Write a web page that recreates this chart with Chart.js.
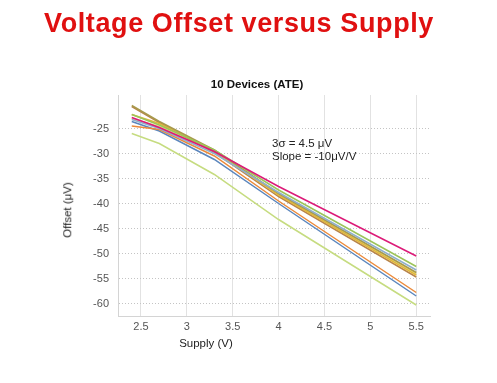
<!DOCTYPE html>
<html>
<head>
<meta charset="utf-8">
<script src="https://cdn.jsdelivr.net/npm/chart.js@4.4.1/dist/chart.umd.min.js"></script>
<style>
  html, body { margin: 0; padding: 0; background: #ffffff; }
  #wrap { position: relative; width: 497px; height: 383px; overflow: hidden; font-family: 'Liberation Sans', Arial, sans-serif; }
  #c { position: absolute; left: 0; top: 0; }
  .t { position: absolute; white-space: nowrap; line-height: 1; }
  #mainTitle { left: 239px; top: 10px; transform: translateX(-50%); font-size: 27px; line-height: 27px; font-weight: bold; color: #e01010; letter-spacing: 0.6px; }
  #subTitle { left: 257px; top: 79px; transform: translateX(-50%); font-size: 11.5px; font-weight: bold; color: #111; }
  #note { left: 272px; top: 137px; font-size: 11.5px; line-height: 13px; color: #222; }
  #xTitle { left: 206px; top: 338px; transform: translateX(-50%); font-size: 11.5px; color: #222; }
  #yTitle { left: 68px; top: 210px; transform: translate(-50%, -50%) rotate(-90deg); font-size: 11.5px; color: #222; }
</style>
</head>
<body>
<div id="wrap">
  <canvas id="c" width="497" height="383"></canvas>
  <div class="t" id="mainTitle">Voltage Offset versus Supply</div>
  <div class="t" id="subTitle">10 Devices (ATE)</div>
  <div class="t" id="note">3σ = 4.5 μV<br>Slope = -10μV/V</div>
  <div class="t" id="xTitle">Supply (V)</div>
  <div class="t" id="yTitle">Offset (μV)</div>
</div>
<script>
// ---- data ----
const supply = [2.4, 2.7, 3.3, 4.0, 5.5];
const dev1  = [-24.5, -25.2, -30.5, -39.5, -57.8];
const dev2  = [-23.6, -25.5, -31.2, -40.0, -58.5];
const dev3  = [-26.0, -28.0, -34.2, -43.2, -60.3];
const dev4  = [-22.8, -24.8, -29.6, -36.6, -50.5];
const dev5  = [-22.2, -24.3, -29.3, -37.3, -52.6];
const dev6  = [-23.2, -25.0, -30.0, -37.8, -53.3];
const dev7  = [-20.4, -23.6, -29.3, -38.0, -53.8];
const dev8  = [-22.2, -24.0, -29.5, -38.3, -54.3];
const dev9  = [-20.6, -23.8, -29.8, -38.6, -54.7];
const dev10 = [-23.0, -24.6, -29.5, -38.0, -54.0];
const xTicks = [2.5, 3, 3.5, 4, 4.5, 5, 5.5];
const yTicks = [-25, -30, -35, -40, -45, -50, -55, -60];

const devices = [dev4, dev5, dev6, dev7, dev8, dev9, dev10, dev1, dev2, dev3];
const colors = ['#dc1a78', '#9cc45a', '#8fb0cc', '#a89a4c', '#e2b83a', '#b8844a', '#e6de80', '#ec8a3a', '#5b86bd', '#c6dc80'];

Chart.defaults.font.family = "'Liberation Sans', Arial, sans-serif";
Chart.defaults.font.size = 11;
Chart.defaults.color = '#555';

new Chart(document.getElementById('c'), {
  type: 'line',
  data: {
    datasets: devices.map((d, i) => ({
      label: 'Device ' + (i + 1),
      data: supply.map((x, j) => ({ x: x, y: d[j] })),
      borderColor: colors[i],
      borderWidth: 1.5,
      pointRadius: 0,
      tension: 0,
      fill: false
    }))
  },
  options: {
    responsive: false,
    animation: false,
    layout: { padding: { left: 78, right: 67, top: 95, bottom: 42 } },
    plugins: { legend: { display: false }, tooltip: { enabled: false } },
    scales: {
      x: {
        type: 'linear',
        min: 2.25,
        max: 5.65,
        afterBuildTicks: s => { s.ticks = xTicks.map(v => ({ value: v })); },
        afterFit: s => { s.height = 25; },
        grid: { color: '#e2e2e2', lineWidth: 1, drawTicks: false },
        border: { color: '#d4d4d4', width: 1 },
        ticks: { padding: 4, color: '#555', font: { size: 11 }, callback: v => String(v) }
      },
      y: {
        min: -62.5,
        max: -18.3,
        afterBuildTicks: s => { s.ticks = yTicks.map(v => ({ value: v })); },
        afterFit: s => { s.width = 40; },
        grid: { color: '#c4c4c4', lineWidth: 1, drawTicks: false },
        border: { color: '#d4d4d4', width: 1, dash: [1, 2] },
        ticks: { padding: 9, color: '#555', font: { size: 11 }, callback: v => String(v) }
      }
    }
  }
});
</script>
</body>
</html>
